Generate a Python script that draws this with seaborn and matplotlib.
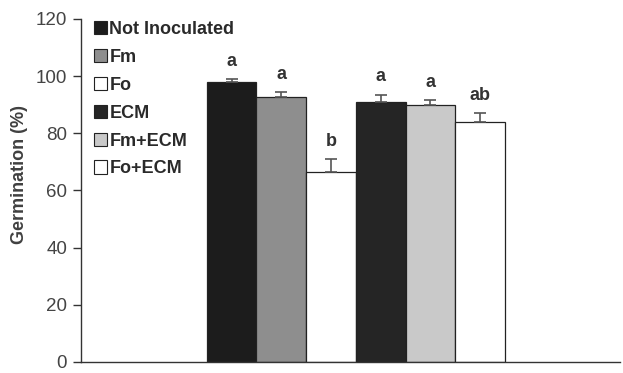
import matplotlib
matplotlib.use('Agg')
import matplotlib.pyplot as plt
import seaborn as sns
import pandas as pd
from matplotlib.patches import Patch

# --- data ---
treatments = ['Not Inoculated', 'Fm', 'Fo', 'ECM', 'Fm+ECM', 'Fo+ECM']
germination = [98, 92.5, 66.5, 91, 90, 84]
errors = [1, 2, 4.5, 2.5, 1.5, 3]
letters = ['a', 'a', 'b', 'a', 'a', 'ab']
bar_colors = ['#1c1c1c', '#8e8e8e', '#ffffff', '#252525', '#c9c9c9', '#ffffff']
yticks = [0, 20, 40, 60, 80, 100, 120]

sns.set_style('white')
plt.rcParams['font.family'] = ['Liberation Sans', 'DejaVu Sans']

df = pd.DataFrame({'treatment': treatments, 'germination': germination})

fig = plt.figure(figsize=(6.23, 3.73), dpi=100)
ax = fig.add_axes([0.130, 0.0295, 0.865, 0.92])

sns.barplot(data=df, x='treatment', y='germination', hue='treatment',
            palette=dict(zip(treatments, bar_colors)), width=1.0,
            dodge=False, legend=False, errorbar=None,
            edgecolor='#222222', linewidth=0.9, ax=ax)

# upward-only error bars
xs = range(len(treatments))
ax.errorbar(xs, germination, yerr=[[0] * len(errors), errors], fmt='none',
            ecolor='#555555', elinewidth=1.2, capsize=4, capthick=1.2)

for x, v, e, lab in zip(xs, germination, errors, letters):
    ax.text(x, v + e + 3.2, lab, ha='center', va='bottom',
            fontsize=13, fontweight='bold', color='#333333')

ax.set_ylim(0, 120)
ax.set_xlim(-3.03, 7.81)
ax.set_yticks(yticks)
ax.set_yticklabels([str(t) for t in yticks], fontsize=13.5, color='#444444')
ax.set_xticks([])
ax.set_xlabel('')
ax.set_ylabel('Germination (%)', fontsize=13, fontweight='bold', color='#404040')
ax.yaxis.set_label_coords(-0.098, 0.545)

sns.despine(ax=ax)
for s in ['left', 'bottom']:
    ax.spines[s].set_color('#333333')
    ax.spines[s].set_linewidth(1.0)
ax.tick_params(axis='y', direction='out', length=6, width=1, color='#333333', left=True, pad=4)

handles = [Patch(facecolor=c, edgecolor='#222222', linewidth=0.8) for c in bar_colors]
leg = ax.legend(handles, treatments, loc='upper left', bbox_to_anchor=(0.0, 1.03),
                frameon=False, handlelength=0.75, handleheight=0.75, handletextpad=0.12,
                labelspacing=0.6, borderaxespad=0.3,
                prop={'weight': 'bold', 'size': 13})
for t in leg.get_texts():
    t.set_color('#2a2a2a')

fig.savefig('out.png', dpi=100)
